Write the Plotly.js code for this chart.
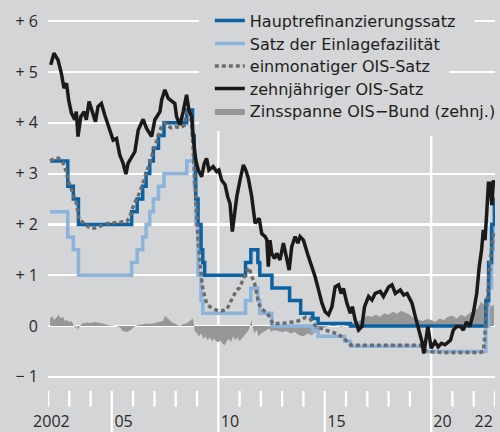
<!DOCTYPE html>
<html>
<head>
<meta charset="utf-8">
<script src="https://cdn.plot.ly/plotly-3.0.1.min.js"></script>
<style>
html,body{margin:0;padding:0;background:#d4d5d7;}
#chart{width:500px;height:432px;}
</style>
</head>
<body>
<div id="chart"></div>
<script>
// ---- Data (decimal years) ----
const seriesNames = ["Hauptrefinanzierungssatz", "Satz der Einlagefazilität", "einmonatiger OIS-Satz", "zehnjähriger OIS-Satz", "Zinsspanne OIS\u2212Bund (zehnj.)"];

const mroX = [2002.1, 2002.93, 2003.19, 2003.43, 2005.93, 2006.19, 2006.45, 2006.61, 2006.78, 2006.95, 2007.19, 2007.45, 2008.52, 2008.79, 2008.87, 2008.94, 2009.05, 2009.19, 2009.27, 2009.36, 2011.28, 2011.53, 2011.86, 2011.95, 2012.52, 2013.35, 2013.87, 2014.44, 2014.69, 2016.21, 2022.57, 2022.70, 2022.84, 2022.97, 2022.99];
const mroY = [3.25, 2.75, 2.50, 2.00, 2.25, 2.50, 2.75, 3.00, 3.25, 3.50, 3.75, 4.00, 4.25, 3.75, 3.25, 2.50, 2.00, 1.50, 1.25, 1.00, 1.25, 1.50, 1.25, 1.00, 0.75, 0.50, 0.25, 0.15, 0.05, 0.00, 0.50, 1.25, 2.00, 2.50, 2.50];

const depX = [2002.1, 2002.93, 2003.19, 2003.43, 2005.93, 2006.19, 2006.45, 2006.61, 2006.78, 2006.95, 2007.19, 2007.45, 2008.52, 2008.87, 2008.94, 2009.05, 2009.19, 2009.27, 2011.28, 2011.53, 2011.86, 2011.95, 2012.52, 2014.44, 2014.69, 2015.93, 2016.21, 2019.71, 2022.57, 2022.70, 2022.84, 2022.97, 2022.99];
const depY = [2.25, 1.75, 1.50, 1.00, 1.25, 1.50, 1.75, 2.00, 2.25, 2.50, 2.75, 3.00, 3.25, 2.75, 2.00, 1.00, 0.50, 0.25, 0.50, 0.75, 0.50, 0.25, 0.00, -0.10, -0.20, -0.30, -0.40, -0.50, 0.00, 0.75, 1.50, 2.00, 2.00];

const ois1X = [2002.1, 2002.3, 2002.5, 2002.7, 2002.85, 2002.95, 2003.05, 2003.2, 2003.35, 2003.45, 2003.6, 2003.8, 2004.0, 2004.2, 2004.5, 2004.8, 2005.1, 2005.4, 2005.7, 2005.85, 2005.95, 2006.1, 2006.3, 2006.45, 2006.6, 2006.75, 2006.9, 2007.05, 2007.2, 2007.35, 2007.5, 2007.6, 2007.8, 2008.0, 2008.2, 2008.4, 2008.5, 2008.65, 2008.75, 2008.82, 2008.88, 2008.95, 2009.05, 2009.15, 2009.25, 2009.35, 2009.45, 2009.6, 2009.8, 2010.0, 2010.2, 2010.4, 2010.55, 2010.7, 2010.85, 2011.0, 2011.15, 2011.3, 2011.45, 2011.55, 2011.7, 2011.8, 2011.9, 2012.0, 2012.15, 2012.3, 2012.45, 2012.55, 2012.7, 2013.0, 2013.3, 2013.6, 2013.9, 2014.1, 2014.3, 2014.45, 2014.7, 2015.0, 2015.3, 2015.6, 2015.85, 2016.0, 2016.25, 2016.5, 2017.0, 2017.5, 2018.0, 2018.5, 2019.0, 2019.5, 2019.65, 2019.8, 2020.5, 2021.5, 2022.3, 2022.45, 2022.5, 2022.6, 2022.7, 2022.8, 2022.95];
const ois1Y = [3.25, 3.30, 3.30, 3.22, 3.05, 2.85, 2.75, 2.55, 2.40, 2.10, 2.05, 2.00, 1.92, 1.93, 1.98, 2.02, 2.03, 2.04, 2.06, 2.15, 2.30, 2.45, 2.62, 2.80, 3.00, 3.20, 3.40, 3.60, 3.80, 3.95, 4.00, 3.95, 3.90, 3.92, 3.90, 3.95, 4.20, 4.25, 4.00, 3.50, 3.00, 2.30, 1.70, 1.20, 0.80, 0.60, 0.45, 0.38, 0.33, 0.30, 0.30, 0.33, 0.45, 0.60, 0.70, 0.75, 0.90, 1.05, 1.15, 1.00, 0.85, 0.60, 0.45, 0.35, 0.30, 0.25, 0.15, 0.05, 0.05, 0.05, 0.07, 0.08, 0.12, 0.17, 0.15, 0.05, -0.03, -0.08, -0.12, -0.15, -0.22, -0.28, -0.38, -0.38, -0.38, -0.38, -0.38, -0.38, -0.38, -0.38, -0.45, -0.50, -0.52, -0.52, -0.52, -0.50, -0.30, 0.30, 0.90, 1.40, 1.85];

const ois10X = [2002.13, 2002.28, 2002.47, 2002.63, 2002.75, 2002.87, 2002.97, 2003.10, 2003.26, 2003.33, 2003.41, 2003.54, 2003.70, 2003.80, 2003.93, 2004.07, 2004.23, 2004.35, 2004.51, 2004.67, 2004.90, 2005.06, 2005.22, 2005.37, 2005.53, 2005.66, 2005.76, 2005.95, 2006.08, 2006.24, 2006.47, 2006.63, 2006.87, 2007.02, 2007.26, 2007.34, 2007.49, 2007.65, 2007.81, 2007.96, 2008.04, 2008.20, 2008.35, 2008.51, 2008.62, 2008.75, 2008.82, 2008.94, 2009.06, 2009.22, 2009.34, 2009.45, 2009.56, 2009.76, 2009.92, 2010.03, 2010.16, 2010.32, 2010.44, 2010.55, 2010.66, 2010.75, 2010.87, 2011.02, 2011.18, 2011.29, 2011.41, 2011.57, 2011.73, 2011.92, 2012.04, 2012.20, 2012.28, 2012.35, 2012.43, 2012.51, 2012.64, 2012.75, 2012.90, 2013.06, 2013.22, 2013.33, 2013.45, 2013.61, 2013.74, 2013.84, 2014.00, 2014.11, 2014.24, 2014.39, 2014.55, 2014.71, 2014.87, 2015.02, 2015.18, 2015.34, 2015.49, 2015.65, 2015.77, 2015.88, 2016.04, 2016.20, 2016.30, 2016.43, 2016.59, 2016.75, 2016.87, 2017.06, 2017.22, 2017.37, 2017.61, 2017.76, 2018.00, 2018.16, 2018.32, 2018.55, 2018.71, 2018.87, 2019.10, 2019.26, 2019.41, 2019.57, 2019.65, 2019.76, 2019.85, 2020.00, 2020.18, 2020.33, 2020.49, 2020.65, 2020.80, 2020.91, 2021.04, 2021.20, 2021.38, 2021.51, 2021.66, 2021.82, 2021.98, 2022.14, 2022.26, 2022.37, 2022.45, 2022.53, 2022.61, 2022.69, 2022.77, 2022.85, 2022.93];
const ois10Y = [5.14, 5.37, 5.24, 4.97, 4.68, 4.78, 4.45, 4.19, 4.06, 4.22, 3.73, 4.12, 4.22, 4.06, 4.42, 4.22, 4.02, 4.32, 4.38, 4.15, 3.86, 3.66, 3.69, 3.37, 3.20, 2.99, 3.20, 3.33, 3.43, 3.86, 4.07, 3.89, 3.73, 4.06, 4.22, 4.45, 4.65, 4.48, 4.42, 4.38, 4.12, 3.96, 4.22, 4.55, 4.25, 4.12, 3.73, 3.27, 3.07, 2.94, 3.20, 3.30, 3.07, 3.14, 3.04, 3.07, 2.87, 2.78, 2.55, 2.41, 1.86, 2.15, 2.55, 2.87, 3.17, 3.07, 2.91, 2.55, 2.02, 2.12, 1.82, 1.76, 1.70, 1.17, 1.69, 1.43, 1.33, 1.43, 1.30, 1.63, 1.30, 1.10, 1.56, 1.76, 1.63, 1.76, 1.69, 1.56, 1.36, 1.17, 0.97, 0.71, 0.45, 0.28, 0.22, 0.38, 0.77, 0.81, 0.64, 0.74, 0.45, 0.25, 0.38, 0.12, -0.08, -0.01, 0.38, 0.58, 0.51, 0.64, 0.68, 0.58, 0.77, 0.81, 0.64, 0.71, 0.61, 0.64, 0.45, 0.18, -0.08, -0.31, -0.54, -0.28, -0.01, -0.44, -0.31, -0.41, -0.34, -0.37, -0.31, -0.28, -0.08, -0.01, -0.01, -0.08, 0.08, -0.01, 0.25, 0.64, 1.17, 1.50, 1.89, 1.69, 2.22, 2.81, 2.81, 2.38, 2.87];

const spreadX = [2002.1, 2002.2, 2002.3, 2002.4, 2002.5, 2002.6, 2002.7, 2002.8, 2002.9, 2003.0, 2003.1, 2003.2, 2003.3, 2003.35, 2003.4, 2003.5, 2003.6, 2003.8, 2004.0, 2004.2, 2004.4, 2004.6, 2004.8, 2005.0, 2005.2, 2005.4, 2005.5, 2005.7, 2005.9, 2006.0, 2006.2, 2006.4, 2006.6, 2006.8, 2007.0, 2007.2, 2007.4, 2007.5, 2007.6, 2007.7, 2007.8, 2008.0, 2008.1, 2008.2, 2008.3, 2008.5, 2008.7, 2008.8, 2008.85, 2008.9, 2009.0, 2009.1, 2009.2, 2009.3, 2009.4, 2009.5, 2009.6, 2009.7, 2009.8, 2009.9, 2010.0, 2010.1, 2010.2, 2010.3, 2010.4, 2010.5, 2010.6, 2010.7, 2010.8, 2010.9, 2011.0, 2011.1, 2011.2, 2011.3, 2011.4, 2011.5, 2011.55, 2011.6, 2011.7, 2011.8, 2011.9, 2012.0, 2012.2, 2012.4, 2012.5, 2012.6, 2012.8, 2013.0, 2013.2, 2013.4, 2013.6, 2013.8, 2014.0, 2014.2, 2014.4, 2014.6, 2014.8, 2015.0, 2015.2, 2015.4, 2015.6, 2015.8, 2016.0, 2016.2, 2016.4, 2016.6, 2016.8, 2017.0, 2017.2, 2017.4, 2017.6, 2017.8, 2018.0, 2018.2, 2018.4, 2018.6, 2018.8, 2019.0, 2019.2, 2019.4, 2019.6, 2019.8, 2020.0, 2020.2, 2020.4, 2020.6, 2020.8, 2021.0, 2021.2, 2021.4, 2021.6, 2021.8, 2022.0, 2022.2, 2022.35, 2022.5, 2022.6, 2022.7, 2022.8, 2022.95];
const spreadY = [0.15, 0.20, 0.12, 0.18, 0.22, 0.15, 0.18, 0.10, 0.12, 0.08, 0.10, 0.02, -0.05, 0.02, -0.08, 0.00, 0.05, 0.07, 0.06, 0.08, 0.07, 0.05, 0.02, 0.01, 0.00, -0.03, -0.10, -0.12, -0.08, -0.03, 0.02, 0.03, 0.05, 0.04, 0.06, 0.08, 0.10, 0.20, 0.15, 0.12, 0.08, 0.05, 0.02, 0.00, 0.03, 0.05, 0.12, 0.15, 0.05, -0.10, -0.15, -0.20, -0.15, -0.25, -0.20, -0.28, -0.22, -0.30, -0.25, -0.30, -0.32, -0.28, -0.35, -0.38, -0.30, -0.25, -0.32, -0.20, -0.28, -0.22, -0.30, -0.25, -0.20, -0.15, -0.10, 0.00, 0.12, 0.00, -0.15, -0.08, -0.20, -0.15, -0.10, -0.05, -0.12, -0.08, -0.10, -0.12, -0.10, -0.15, -0.12, -0.18, -0.20, -0.15, -0.18, -0.10, -0.05, -0.03, 0.00, 0.03, 0.00, -0.02, 0.02, 0.05, 0.08, 0.10, 0.15, 0.20, 0.18, 0.22, 0.18, 0.25, 0.22, 0.28, 0.24, 0.30, 0.26, 0.22, 0.15, 0.12, 0.10, 0.14, 0.12, 0.08, 0.15, 0.12, 0.18, 0.20, 0.15, 0.22, 0.18, 0.25, 0.30, 0.35, 0.48, 0.40, 0.50, 0.45, 0.38, 0.42];

// ---- Axis labels ----
const yTickVals = [-1, 0, 1, 2, 3, 4, 5, 6];
const yTickText = ["\u2212 1", "0", "+ 1", "+ 2", "+ 3", "+ 4", "+ 5", "+ 6"];
const xLabelPos = [2002.16, 2005.55, 2010.55, 2015.55, 2020.53, 2022.47];
const xLabelText = ["2002", "05", "10", "15", "20", "22"];
const firstYear = 2002, lastYear = 2023;
const majorYears = [2005, 2015];
const gridYears = [2010, 2020];

// ---- Styles ----
const BG = "#d4d5d7";
const FONT = "Open Sans, Noto Sans, sans-serif";
const LEGEND_FONT = "DejaVu Sans, Open Sans, sans-serif";
const legendRowsY = [0.9716, 0.9108, 0.8509, 0.7918, 0.7321];

const traces = [
  {x: spreadX, y: spreadY, type: "scatter", mode: "lines", fill: "tozeroy", fillcolor: "#979798",
   line: {width: 0, color: "#979798"}, name: seriesNames[4], legend: "legend5"},
  {x: depX, y: depY, type: "scatter", mode: "lines", line: {shape: "hv", color: "#8cb3dc", width: 3.5},
   name: seriesNames[1], legend: "legend2"},
  {x: mroX, y: mroY, type: "scatter", mode: "lines", line: {shape: "hv", color: "#0a62a3", width: 3.5},
   name: seriesNames[0], legend: "legend"},
  {x: ois1X, y: ois1Y, type: "scatter", mode: "lines", line: {color: "#6c6c6d", width: 3.5, dash: "4px,3px"},
   name: seriesNames[2], legend: "legend3"},
  {x: ois10X, y: ois10Y, type: "scatter", mode: "lines", line: {color: "#1b1a19", width: 3.5},
   name: seriesNames[3], legend: "legend4"}
];

const shapes = [];
// legend background masks (hide gridlines behind legend text only)
shapes.push({type: "rect", xref: "x", yref: "y", x0: 2009.09, x1: 2022.03, y0: 5.9, y1: 6.1, fillcolor: BG, line: {width: 0}, layer: "between"});
shapes.push({type: "rect", xref: "x", yref: "y", x0: 2009.09, x1: 2020.86, y0: 4.9, y1: 5.1, fillcolor: BG, line: {width: 0}, layer: "between"});
shapes.push({type: "rect", xref: "x", yref: "y", x0: 2009.09, x1: 2023.2, y0: 3.9, y1: 4.1, fillcolor: BG, line: {width: 0}, layer: "between"});
// year ticks
for (let yr = firstYear; yr <= lastYear; yr++) {
  const major = majorYears.includes(yr);
  if (gridYears.includes(yr)) continue;
  shapes.push({type: "line", xref: "x", yref: "paper", x0: yr, x1: yr, y0: -0.0106, y1: major ? -0.13 : -0.0523,
    line: {color: "white", width: 2.4}, layer: "below"});
}
// vertical gridlines
const gridTop = {2010: 0.679, 2020: 0.666};
gridYears.forEach(yr => {
  shapes.push({type: "line", xref: "x", yref: "paper", x0: yr, x1: yr, y0: gridTop[yr], y1: -0.13,
    line: {color: "white", width: 2.4}, layer: "below"});
});

function legendAt(y) {
  return {x: 0.362, xanchor: "left", y: y, yanchor: "middle", bgcolor: "rgba(0,0,0,0)",
    font: {family: LEGEND_FONT, size: 16, color: "#1e1d1c"}, itemwidth: 30, borderwidth: 0};
}

const layout = {
  width: 500, height: 432,
  margin: {l: 48, r: 5, t: 10, b: 45, pad: 0, autoexpand: false},
  paper_bgcolor: BG, plot_bgcolor: BG,
  font: {family: FONT, color: "#2b2a29", size: 16},
  showlegend: true,
  legend: legendAt(legendRowsY[0]),
  legend2: legendAt(legendRowsY[1]),
  legend3: legendAt(legendRowsY[2]),
  legend4: legendAt(legendRowsY[3]),
  legend5: legendAt(legendRowsY[4]),
  xaxis: {range: [firstYear, lastYear], showgrid: false, zeroline: false, showline: false,
    tickmode: "array", tickvals: xLabelPos, ticktext: xLabelText, ticks: "",
    tickfont: {family: FONT, size: 16, color: "#2b2a29"}, ticklabelstandoff: 23, fixedrange: true},
  yaxis: {range: [-1.2008, 6.2205], showgrid: true, gridcolor: "white", gridwidth: 2.2, zeroline: false,
    showline: false, tickmode: "array", tickvals: yTickVals, ticktext: yTickText, ticks: "",
    tickfont: {family: FONT, size: 16, color: "#2b2a29"}, ticklabelstandoff: 9, fixedrange: true},
  shapes: shapes
};

Plotly.newPlot("chart", traces, layout, {staticPlot: true, displayModeBar: false});
</script>
</body>
</html>
